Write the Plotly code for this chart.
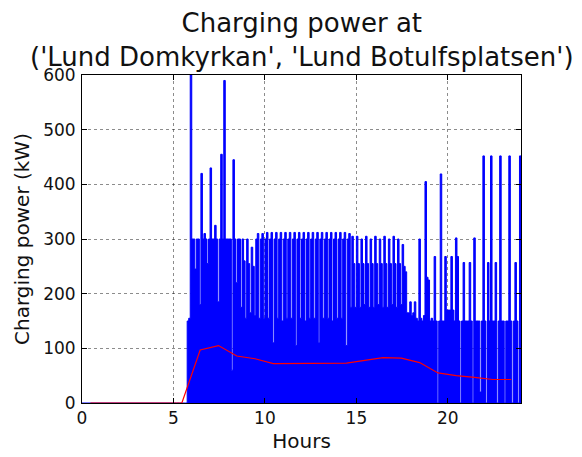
import plotly.graph_objects as go

# ---- data ----
# Charging power (kW) sampled every 5 minutes, starting at 05:00, one row per hour
power_start_hour = 5.0
power_step_min = 5
power_kw = [
    0, 0, 0, 0, 0, 0, 0, 0, 0, 150, 155, 600,                       # 5h
    300, 300, 245, 300, 300, 180, 420, 300, 310, 300, 255, 300,     # 6h
    430, 300, 300, 325, 300, 185, 300, 455, 300, 590, 300, 300,     # 7h
    300, 300, 60, 445, 300, 220, 300, 300, 175, 300, 260, 155,      # 8h
    300, 255, 165, 285, 250, 160, 300, 310, 155, 300, 310, 155,     # 9h
    300, 312, 155, 300, 312, 110, 300, 312, 155, 300, 312, 150,     # 10h
    300, 312, 155, 300, 312, 155, 300, 312, 105, 300, 312, 155,     # 11h
    300, 312, 150, 300, 312, 155, 300, 312, 155, 300, 312, 110,     # 12h
    300, 312, 155, 300, 312, 155, 300, 312, 150, 300, 312, 155,     # 13h
    300, 312, 155, 300, 312, 105, 300, 310, 175, 305, 255, 175,     # 14h
    305, 255, 175, 300, 255, 180, 305, 255, 175, 300, 255, 175,     # 15h
    305, 255, 180, 300, 255, 175, 305, 255, 175, 300, 255, 180,     # 16h
    305, 255, 175, 300, 255, 180, 290, 250, 240, 165, 165, 185,     # 17h
    160, 165, 185, 155, 150, 300, 155, 150, 160, 405, 230, 225,     # 18h
    150, 155, 150, 268, 150, 0, 150, 419, 150, 150, 268, 170,       # 19h
    170, 170, 268, 170, 150, 302, 268, 150, 0, 150, 257, 150,       # 20h
    150, 150, 257, 150, 0, 302, 150, 150, 150, 20, 150, 452,        # 21h
    150, 0, 257, 150, 452, 150, 150, 257, 0, 150, 452, 150,         # 22h
    150, 0, 150, 150, 452, 150, 0, 150, 257, 150, 0, 452,           # 23h
    452,                                                            # 24h
]

# Hourly mean charging power (red line)
mean_hours = [0.46, 1.46, 2.46, 3.46, 4.46, 5.46, 6.46, 7.46, 8.46, 9.46, 10.46, 11.46,
              12.46, 13.46, 14.46, 15.46, 16.46, 17.46, 18.46, 19.46, 20.46, 21.46, 22.46, 23.46]
mean_kw = [0, 0, 0, 0, 0, 0, 97, 105, 86, 81, 72, 72,
           72, 72, 73, 78, 83, 82, 74, 55, 50, 47, 43, 43]

x_ticks = [0, 5, 10, 15, 20]
y_ticks = [0, 100, 200, 300, 400, 500, 600]

title_text = "Charging power at<br>('Lund Domkyrkan', 'Lund Botulfsplatsen')"
x_title = "Hours"
y_title = "Charging power (kW)"

# ---- figure ----
power_hours = [0.0] + [power_start_hour + i * power_step_min / 60.0 for i in range(len(power_kw))]
power_vals = [0] + power_kw

FONT = "DejaVu Sans"
fig = go.Figure()
fig.add_trace(go.Scatter(
    x=power_hours, y=power_vals, mode="lines",
    line=dict(color="#0000ff", width=1, shape="hv"),
    fill="tozeroy", fillcolor="#0000ff", hoverinfo="skip", showlegend=False,
))
fig.add_trace(go.Scatter(
    x=mean_hours, y=mean_kw, mode="lines",
    line=dict(color="#ff0000", width=1.2), showlegend=False,
))

axis_common = dict(
    showline=True, linecolor="black", linewidth=1, mirror="ticks",
    ticks="inside", ticklen=5, tickcolor="black", tickwidth=1,
    showgrid=True, gridcolor="rgba(0,0,0,0.45)", griddash="dot", gridwidth=1,
    zeroline=False, automargin=False,
    tickfont=dict(family=FONT, size=17, color="#111"),
)

# the page body adds an 8px offset, so the figure is sized 8px smaller
fig.update_layout(
    width=574, height=449,
    margin=dict(l=74, r=61, t=67, b=54),
    paper_bgcolor="white", plot_bgcolor="white",
    xaxis=dict(range=[0, 24], tickvals=x_ticks,
               title=dict(text=x_title, font=dict(family=FONT, size=20, color="#111"), standoff=6),
               **axis_common),
    yaxis=dict(range=[0, 600], tickvals=y_ticks, ticklabelstandoff=2,
               title=dict(text=y_title, font=dict(family=FONT, size=20, color="#111"), standoff=8),
               **axis_common),
    annotations=[dict(text=title_text, x=0.5, xref="paper", xanchor="center",
                      y=1, yref="paper", yanchor="bottom", yshift=1, showarrow=False,
                      font=dict(family=FONT, size=26, color="#111"))],
)

fig.write_html("out.html")
